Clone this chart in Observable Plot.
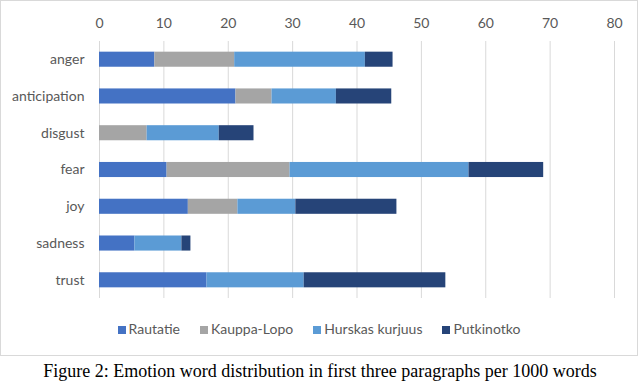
<!DOCTYPE html>
<html>
<head>
<meta charset="utf-8">
<script src="https://cdn.jsdelivr.net/npm/d3@7"></script>
<script src="https://cdn.jsdelivr.net/npm/@observablehq/plot@0.6"></script>
<style>
  body { margin: 0; background: #fff; }
  #box { position: absolute; left: 0; top: 0; width: 636px; height: 354px; border: 1px solid #d9d9d9; box-sizing: content-box; }
  #legend { position: absolute; left: 0; width: 636px; top: 319px; text-align: center; font-family: Lato, sans-serif; font-size: 14px; color: #595959; white-space: nowrap; }
  #legend span.item { display: inline-block; margin: 0 10px; }
  #legend span.sw { display: inline-block; width: 8px; height: 8px; margin-right: 3px; vertical-align: 0px; }
  #caption { position: absolute; left: 0; width: 640px; top: 361px; text-align: center; font-family: "Liberation Serif", serif; font-size: 18px; color: #000; white-space: nowrap; }
</style>
</head>
<body>
<div id="box"><div id="chart"></div><div id="legend"></div></div>
<div id="caption">Figure 2: Emotion word distribution in first three paragraphs per 1000 words</div>
<script>
const categories = ["anger", "anticipation", "disgust", "fear", "joy", "sadness", "trust"];
const series = ["Rautatie", "Kauppa-Lopo", "Hurskas kurjuus", "Putkinotko"];
const rautatie   = [8.6, 21.2, 0,    10.5, 13.8, 5.5, 16.7];
const kauppaLopo = [12.4, 5.6, 7.4,  19.1, 7.7,  0,   0];
const hurskas    = [20.3, 10.0, 11.2, 27.8, 9.0, 7.3, 15.1];
const putkinotko = [4.3, 8.6, 5.4,   11.6, 15.7, 1.4, 22.0];
const xTicks = [0, 10, 20, 30, 40, 50, 60, 70, 80];
const colors = ["#4472C4", "#A5A5A5", "#5B9BD5", "#264478"];

const seriesValues = [rautatie, kauppaLopo, hurskas, putkinotko];
const data = [];
categories.forEach((c, i) => {
  series.forEach((s, j) => data.push({emotion: c, series: s, value: seriesValues[j][i]}));
});

const chart = Plot.plot({
  width: 636,
  height: 305,
  marginLeft: 98,
  marginRight: 23,
  marginTop: 40,
  marginBottom: 8,
  style: {fontFamily: "Lato, sans-serif", fontSize: "14px", color: "#595959", background: "transparent"},
  x: {domain: [0, 80]},
  y: {domain: categories, paddingInner: 0.59, paddingOuter: 0.29, round: false},
  color: {domain: series, range: colors},
  marks: [
    Plot.gridX(xTicks, {stroke: "#d9d9d9", strokeOpacity: 1}),
    Plot.axisX(xTicks, {anchor: "top", tickSize: 0, tickPadding: 14, label: null, fill: "#595959"}),
    Plot.axisY({tickSize: 0, tickPadding: 15, label: null, fill: "#595959"}),
    Plot.barX(data, Plot.stackX({x: "value", y: "emotion", fill: "series"}))
  ]
});
document.getElementById("chart").appendChild(chart);

const legend = document.getElementById("legend");
series.forEach((s, j) => {
  const item = document.createElement("span");
  item.className = "item";
  const sw = document.createElement("span");
  sw.className = "sw";
  sw.style.background = colors[j];
  item.appendChild(sw);
  item.appendChild(document.createTextNode(s));
  legend.appendChild(item);
});
</script>
</body>
</html>
